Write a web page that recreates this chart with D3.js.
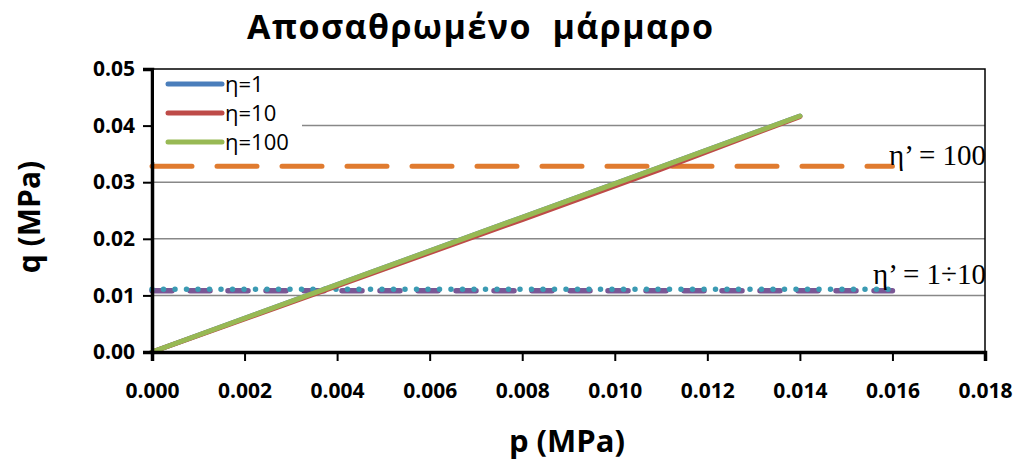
<!DOCTYPE html>
<html>
<head>
<meta charset="utf-8">
<script src="https://cdn.jsdelivr.net/npm/d3@7"></script>
<style>
  body { margin: 0; background: #fff; }
  text { font-family: "Open Sans", sans-serif; }
</style>
</head>
<body>
<div id="chart"></div>
<script>
// data
const pVals = [0, 0.004, 0.008, 0.011, 0.014];
const q_eta1 = [0, 0.0119, 0.0238, 0.0327, 0.0417];
const q_eta10 = [0, 0.0117, 0.0234, 0.0323, 0.0416];
const q_eta100 = [0, 0.0119, 0.0238, 0.0327, 0.0417];
const seriesNames = ["η=1", "η=10", "η=100"];
const seriesColors = ["#4a7ebb", "#be4b48", "#98b954"];

const limP = [0, 0.016];
const limQ100 = 0.0328;   // η' = 100
const limQ10a = 0.0108;   // purple dashed
const limQ10b = 0.0111;   // teal dotted

const xTicks = [0, 0.002, 0.004, 0.006, 0.008, 0.010, 0.012, 0.014, 0.016, 0.018];
const yTicks = [0, 0.01, 0.02, 0.03, 0.04, 0.05];

const width = 1019, height = 466;
const margin = {top: 69, right: 34, bottom: 114, left: 152};

const svg = d3.select("#chart").append("svg")
    .attr("width", width)
    .attr("height", height);

const x = d3.scaleLinear().domain([0, 0.018]).range([margin.left, width - margin.right]);
const y = d3.scaleLinear().domain([0, 0.05]).range([height - margin.bottom, margin.top]);

// gridlines
svg.append("g")
  .selectAll("line")
  .data(yTicks.slice(1, -1))
  .enter().append("line")
    .attr("x1", x(0)).attr("x2", x(0.018))
    .attr("y1", d => y(d)).attr("y2", d => y(d))
    .style("stroke", "#888").style("stroke-width", 1.5);

// top and right border
svg.append("path")
    .attr("d", "M" + x(0) + "," + y(0.05) + "H" + x(0.018) + "V" + y(0))
    .style("fill", "none").style("stroke", "#000").style("stroke-width", 1.5);

// limit lines
function hline(q, color, dash, w) {
  svg.append("line")
    .attr("x1", x(limP[0])).attr("x2", x(limP[1]))
    .attr("y1", y(q)).attr("y2", y(q))
    .style("stroke", color).style("stroke-width", w)
    .style("stroke-dasharray", dash)
    .style("stroke-linecap", "round");
}
hline(limQ100, "#e07b2f", "40,25", 5);
hline(limQ10a, "#7a5795", "20,18", 5.5);
hline(limQ10b, "#3b9bb3", "0,11.5", 5.5);

// q-p lines
const line = d3.line().x(d => x(d[0])).y(d => y(d[1]));
[q_eta1, q_eta10, q_eta100].forEach((qs, i) => {
  svg.append("path")
    .datum(pVals.map((p, j) => [p, qs[j]]))
    .attr("d", line)
    .style("fill", "none")
    .style("stroke", seriesColors[i])
    .style("stroke-width", 5)
    .style("stroke-linecap", "round");
});

// axes
const xAxis = svg.append("g")
    .attr("transform", "translate(0," + y(0) + ")")
    .call(d3.axisBottom(x).tickValues(xTicks).tickFormat(d3.format(".3f")).tickSize(9).tickPadding(22));
const yAxis = svg.append("g")
    .attr("transform", "translate(" + x(0) + ",0)")
    .call(d3.axisLeft(y).tickValues(yTicks).tickFormat(d3.format(".2f")).tickSize(9).tickPadding(8));
[xAxis, yAxis].forEach(a => {
  a.select(".domain").style("stroke", "#000").style("stroke-width", 3.5);
  a.selectAll(".tick line").style("stroke", "#000").style("stroke-width", 2);
  a.selectAll(".tick text").style("font-size", "21px").style("font-weight", "bold")
    .style("fill", "#000").style("font-family", "'Open Sans', sans-serif");
});

// legend
const leg = svg.append("g");
leg.append("rect").attr("x", x(0) + 2).attr("y", y(0.05) + 1).attr("width", 148).attr("height", 92)
    .style("fill", "#fff");
seriesNames.forEach((n, i) => {
  const ly = 84 + i * 29;
  leg.append("line").attr("x1", 168).attr("x2", 222).attr("y1", ly).attr("y2", ly)
    .style("stroke", seriesColors[i]).style("stroke-width", 5).style("stroke-linecap", "round");
  leg.append("text").attr("x", 225).attr("y", ly + 8).text(n)
    .style("font-size", "22px").style("fill", "#000");
});

// annotations
svg.append("text").attr("x", x(0.018) + 1).attr("y", 165).attr("text-anchor", "end")
    .style("font-family", "'Liberation Serif', serif").style("font-size", "29px")
    .text("η’ = 100");
svg.append("text").attr("x", x(0.018) + 1).attr("y", 284).attr("text-anchor", "end")
    .style("font-family", "'Liberation Serif', serif").style("font-size", "29px")
    .text("η’ = 1÷10");

// titles
svg.append("text").attr("x", 247).attr("y", 39)
    .attr("textLength", 466).attr("lengthAdjust", "spacing")
    .style("white-space", "pre")
    .style("font-size", "34px").style("font-weight", "bold")
    .text("Αποσαθρωμένο  μάρμαρο");
svg.append("text").attr("x", 567).attr("y", 452).attr("text-anchor", "middle")
    .style("font-size", "31px").style("font-weight", "bold")
    .text("p (MPa)");
svg.append("text").attr("transform", "translate(40,217) rotate(-90)").attr("text-anchor", "middle")
    .style("font-size", "30px").style("font-weight", "bold")
    .text("q (MPa)");
</script>
</body>
</html>
